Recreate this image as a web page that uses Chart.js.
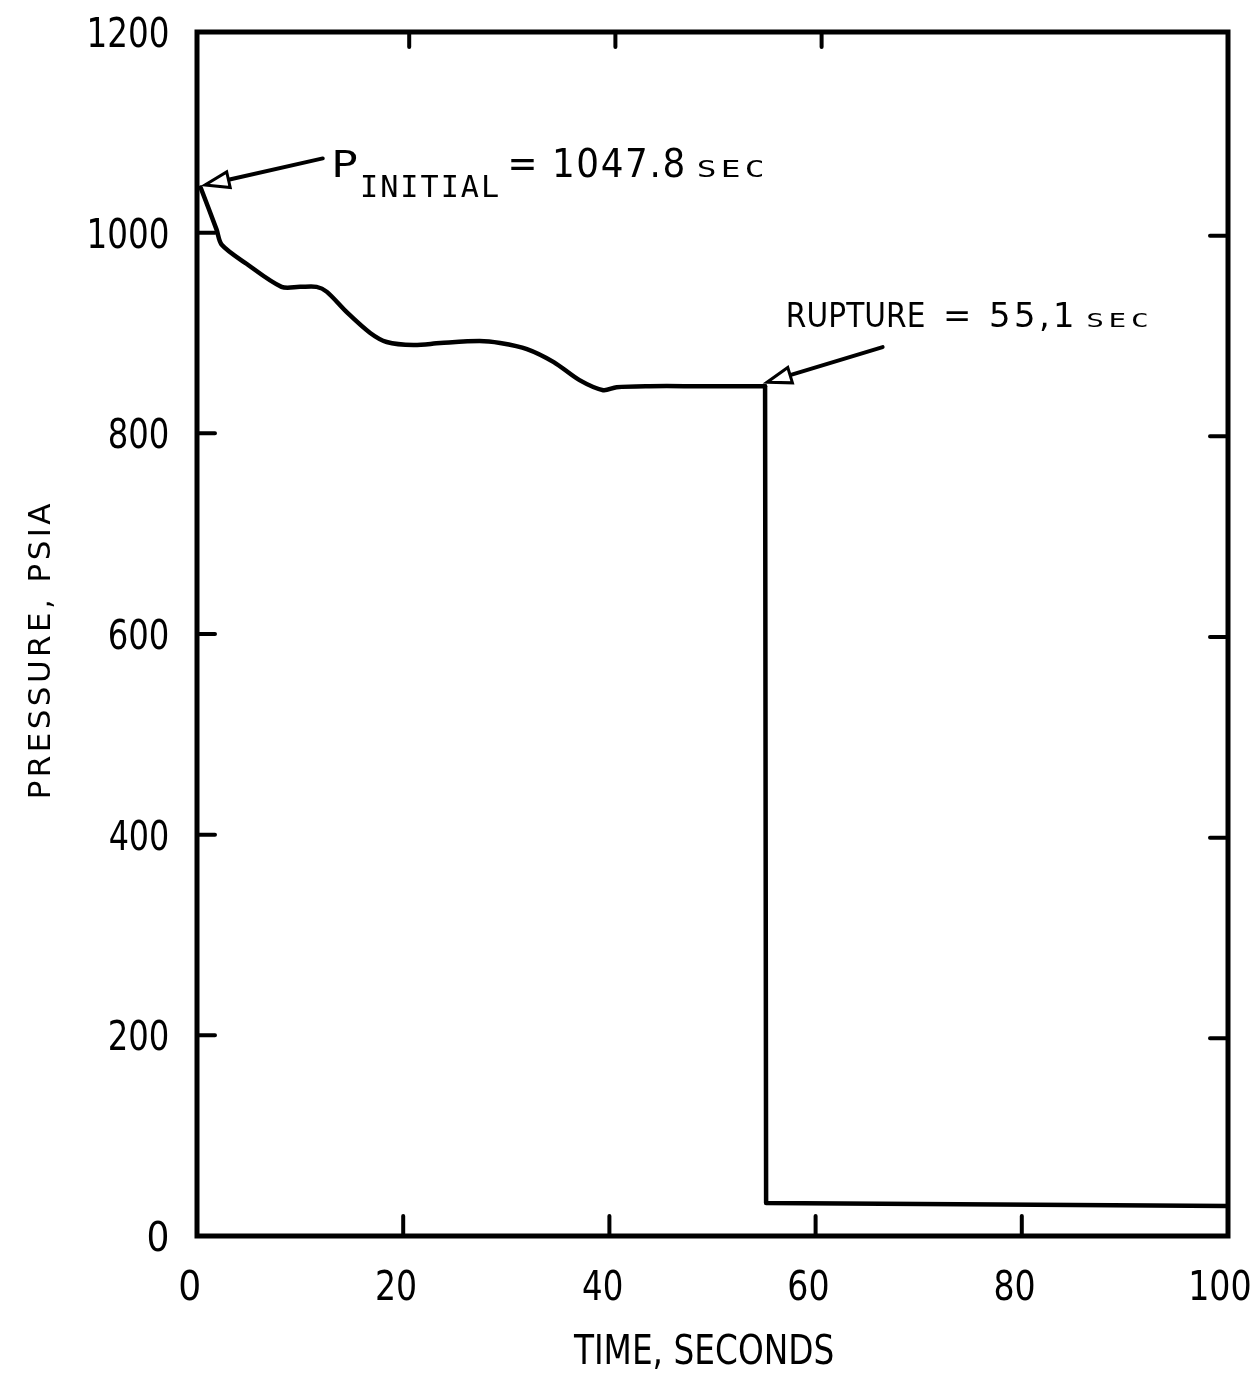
<!DOCTYPE html>
<html>
<head>
<meta charset="utf-8">
<script src="https://cdn.jsdelivr.net/npm/chart.js@4.4.1/dist/chart.umd.min.js"></script>
<style>
    html, body { margin: 0; padding: 0; background: #fff; }
    canvas { display: block; }
</style>
</head>
<body>
<canvas id="pressure" width="1255" height="1374"></canvas>
<script>
// values (time in seconds, pressure in psia)
const timeSec = [0.35, 1.9, 2.4, 4.8, 8.2, 10.0, 11.6, 12.6, 14.6, 16.8, 18.4, 21.0, 23.6, 27.4, 29.4, 32.0, 34.6, 37.1, 39.4, 40.7, 43.9, 48.8, 55.1]
const pressurePsia = [1045, 1003, 988, 969, 946, 946, 946, 941, 920, 900, 891, 888, 890, 892, 890, 884, 871, 853, 843, 846, 847, 847, 847]
// rupture: sudden drop and the residual pressure afterwards
const ruptureSec = [55.1, 55.2, 100]
const rupturePsia = [847, 33, 30]
const xTicks = [0, 20, 40, 60, 80, 100]
const yTicks = [0, 200, 400, 600, 800, 1000, 1200]
const xTitle = 'TIME, SECONDS'
const yTitle = 'PRESSURE, PSIA'
const initialLabel = ['P', 'INITIAL', '= 1047.8', 'SEC']
const ruptureLabel = ['RUPTURE', '= 55,1', 'SEC']

const COND = "'DejaVu Sans Condensed', 'DejaVu Sans', sans-serif"
const MONO = "'DejaVu Sans Mono', monospace"

// draws text so its inked box starts at `left` and is `width` wide;
// a little extra room goes into letter spacing, the rest is a stretch
function fitText(ctx, text, left, base, cap, width, family = COND, maxGap = 3) {
    ctx.save()
    ctx.font = cap / 0.729 + 'px ' + family
    ctx.textAlign = 'left'
    ctx.textBaseline = 'alphabetic'
    ctx.letterSpacing = '0px'
    let m = ctx.measureText(text)
    let w = m.actualBoundingBoxLeft + m.actualBoundingBoxRight
    if (w < width && text.length > 1) {
        const gap = Math.min(maxGap, (width - w) / (text.length - 1))
        ctx.letterSpacing = gap + 'px'
        m = ctx.measureText(text)
        w = m.actualBoundingBoxLeft + m.actualBoundingBoxRight
    }
    ctx.translate(left, base)
    ctx.scale(width / w, 1)
    ctx.fillText(text, m.actualBoundingBoxLeft, 0)
    ctx.restore()
}

function arrow(ctx, x1, y1, x2, y2) {
    const a = Math.atan2(y2 - y1, x2 - x1),
        len = 24,
        half = 8
    const bx = x2 - len * Math.cos(a),
        by = y2 - len * Math.sin(a)
    ctx.beginPath()
    ctx.moveTo(x1, y1)
    ctx.lineTo(bx, by)
    ctx.lineWidth = 4
    ctx.stroke()
    ctx.beginPath()
    ctx.moveTo(x2, y2)
    ctx.lineTo(bx + half * Math.sin(a), by - half * Math.cos(a))
    ctx.lineTo(bx - half * Math.sin(a), by + half * Math.cos(a))
    ctx.closePath()
    ctx.fillStyle = '#fff'
    ctx.fill()
    ctx.lineWidth = 3
    ctx.stroke()
    ctx.fillStyle = '#000'
}

const paperPlot = {
    id: 'paperPlot',
    afterDraw(chart) {
        const ctx = chart.ctx,
            area = chart.chartArea,
            xs = chart.scales.x,
            ys = chart.scales.y
        ctx.save()
        ctx.strokeStyle = '#000'
        ctx.fillStyle = '#000'
        ctx.lineCap = 'round'

        // frame
        ctx.lineWidth = 5
        ctx.strokeRect(area.left, area.top, area.right - area.left, area.bottom - area.top)

        // inward ticks
        ctx.lineWidth = 4
        ctx.beginPath()
        xTicks.slice(1, -1).forEach((v) => {
            const px = xs.getPixelForValue(v)
            ctx.moveTo(px, area.bottom)
            ctx.lineTo(px, area.bottom - 20)
            if (v < 80) {
                ctx.moveTo(px + 6, area.top)
                ctx.lineTo(px + 6, area.top + 15)
            }
        })
        yTicks.slice(1, -1).forEach((v) => {
            const py = ys.getPixelForValue(v)
            ctx.moveTo(area.left, py)
            ctx.lineTo(area.left + 18, py)
            ctx.moveTo(area.right, py + 3)
            ctx.lineTo(area.right - 18, py + 3)
        })
        ctx.stroke()

        // tick labels
        yTicks.forEach((v) => {
            const t = String(v),
                w = t.length * 19.5
            fitText(ctx, t, 168 - w, ys.getPixelForValue(v) + 15, 30, w)
        })
        xTicks.forEach((v) => {
            const t = String(v),
                w = t.length * 19.5
            fitText(ctx, t, xs.getPixelForValue(v) - 7 - w / 2, 1300, 30, w)
        })

        // axis titles
        fitText(ctx, xTitle, 573, 1364, 30, 260)
        ctx.save()
        ctx.translate(39, 650)
        ctx.rotate(-Math.PI / 2)
        fitText(ctx, yTitle, -147, 11, 22, 294)
        ctx.restore()

        // annotations
        const X = (v) => xs.getPixelForValue(v),
            Y = (v) => ys.getPixelForValue(v)
        fitText(ctx, initialLabel[0], X(13.4), Y(1055.5), 27, 21)
        fitText(ctx, initialLabel[1], X(16.0), Y(1035.6), 22, 136, MONO, 6)
        fitText(ctx, initialLabel[2], X(30.4), Y(1055.5), 29, 173)
        fitText(ctx, initialLabel[3], X(48.6), Y(1055.5), 17, 65, MONO)
        arrow(ctx, X(12.2), Y(1074), X(0.78), Y(1047.5))

        fitText(ctx, ruptureLabel[0], X(57.3), Y(906), 24, 136)
        fitText(ctx, ruptureLabel[1], X(72.7), Y(906), 24, 126)
        fitText(ctx, ruptureLabel[2], X(86.4), Y(906), 14, 60, MONO)
        arrow(ctx, X(66.5), Y(886), X(55.3), Y(851))

        ctx.restore()
    },
}

const lineStyle = {
    borderColor: '#000',
    borderWidth: 4.5,
    pointRadius: 0,
    borderJoinStyle: 'round',
    borderCapStyle: 'round',
    fill: false,
}

new Chart(document.getElementById('pressure'), {
    type: 'line',
    data: {
        datasets: [
            {
                ...lineStyle,
                data: timeSec.map((t, i) => ({ x: t, y: pressurePsia[i] })),
                tension: 0.3,
            },
            {
                ...lineStyle,
                data: ruptureSec.map((t, i) => ({ x: t, y: rupturePsia[i] })),
                tension: 0,
            },
        ],
    },
    options: {
        responsive: false,
        animation: false,
        layout: { padding: { top: 32, right: 27, left: 0, bottom: 0 } },
        plugins: { legend: { display: false }, tooltip: { enabled: false } },
        scales: {
            x: {
                type: 'linear',
                min: 0,
                max: 100,
                grid: { display: false },
                border: { display: false },
                ticks: { display: false },
                afterBuildTicks: (s) => { s.ticks = xTicks.map((v) => ({ value: v })) },
                afterFit: (s) => { s.height = 138 },
            },
            y: {
                type: 'linear',
                min: 0,
                max: 1200,
                grid: { display: false },
                border: { display: false },
                ticks: { display: false },
                afterBuildTicks: (s) => { s.ticks = yTicks.map((v) => ({ value: v })) },
                afterFit: (s) => { s.width = 197 },
            },
        },
    },
    plugins: [paperPlot],
})
</script>
</body>
</html>
